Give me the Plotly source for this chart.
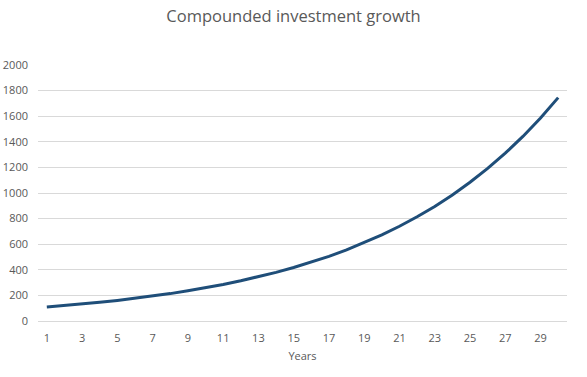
import plotly.graph_objects as go

years = list(range(1, 31))
values = [110, 121, 133, 146, 161, 177, 195, 214, 236, 259,
          285, 314, 345, 380, 418, 459, 505, 556, 612, 673,
          740, 814, 895, 985, 1084, 1192, 1311, 1442, 1586, 1745]
tick_years = list(range(1, 31, 2))
y_ticks = list(range(0, 2001, 200))

font_family = "Open Sans, Liberation Sans, sans-serif"
gray = "#595959"

fig = go.Figure()
fig.add_trace(go.Scatter(x=years, y=values, mode="lines",
                         line=dict(color="#1F4E79", width=3),
                         showlegend=False, hoverinfo="x+y"))

fig.update_layout(
    width=587, height=377,
    margin=dict(l=38, r=20, t=65, b=56, autoexpand=False),
    paper_bgcolor="white", plot_bgcolor="white",
    title=dict(text="Compounded investment growth", x=0.5, xanchor="center",
               xref="container",
               y=1 - 16 / 377, yanchor="middle", yref="container",
               font=dict(family=font_family, size=16.5, color=gray)),
    xaxis=dict(range=[0.5, 30.5], tickmode="array", tickvals=tick_years,
               ticktext=[str(t) for t in tick_years], automargin=False,
               showgrid=False, zeroline=False, showline=False, ticks="",
               tickfont=dict(family=font_family, size=11, color=gray),
               ticklabelstandoff=9,
               title=dict(text="Years", standoff=8,
                          font=dict(family=font_family, size=11, color=gray))),
    yaxis=dict(range=[0, 2000], tickmode="array", tickvals=y_ticks,
               automargin=False,
               showgrid=True, gridcolor="#D9D9D9", gridwidth=1,
               zeroline=True, zerolinecolor="#D9D9D9", zerolinewidth=1,
               showline=False, ticks="",
               tickfont=dict(family=font_family, size=11, color=gray),
               ticklabelstandoff=9),
)

fig.write_html("out.html", config={"displayModeBar": False},
               post_script="document.body.style.margin='0';document.body.style.padding='0';")
